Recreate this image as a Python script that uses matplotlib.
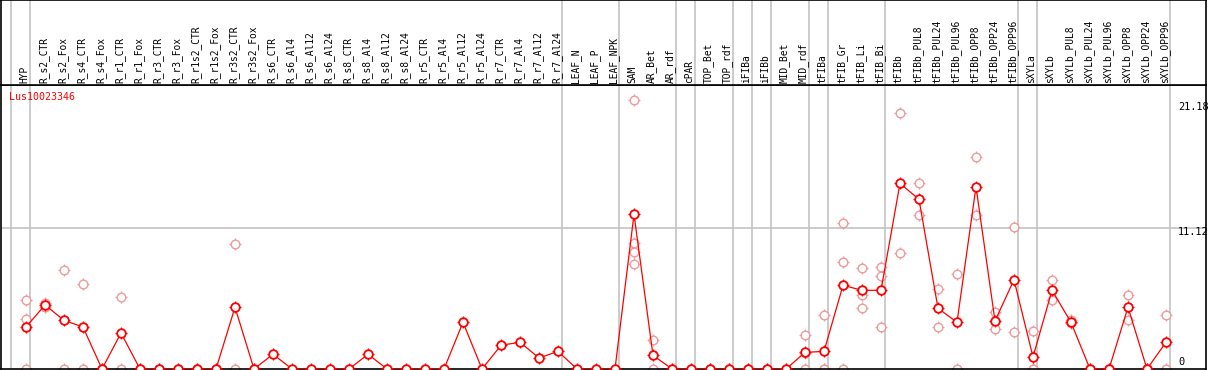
import matplotlib
matplotlib.use("Agg")
import matplotlib.pyplot as plt
import matplotlib.transforms as mtransforms

samples = ["HYP", "R_s2_CTR", "R_s2_Fox", "R_s4_CTR", "R_s4_Fox", "R_r1_CTR", "R_r1_Fox",
           "R_r3_CTR", "R_r3_Fox", "R_r1s2_CTR", "R_r1s2_Fox", "R_r3s2_CTR", "R_r3s2_Fox",
           "R_s6_CTR", "R_s6_Al4", "R_s6_Al12", "R_s6_Al24", "R_s8_CTR", "R_s8_Al4", "R_s8_Al12",
           "R_s8_Al24", "R_r5_CTR", "R_r5_Al4", "R_r5_Al12", "R_r5_Al24", "R_r7_CTR", "R_r7_Al4",
           "R_r7_Al12", "R_r7_Al24", "LEAF_N", "LEAF_P", "LEAF_NPK", "SAM", "AR_Bet", "AR_rdf",
           "cPAR", "TOP_Bet", "TOP_rdf", "iFIBa", "iFIBb", "MID_Bet", "MID_rdf", "tFIBa",
           "tFIB_Gr", "tFIB_Li", "tFIB_Bi", "tFIBb", "tFIBb_PUL8", "tFIBb_PUL24", "tFIBb_PUL96",
           "tFIBb_OPP8", "tFIBb_OPP24", "tFIBb_OPP96", "sXYLa", "sXYLb", "sXYLb_PUL8",
           "sXYLb_PUL24", "sXYLb_PUL96", "sXYLb_OPP8", "sXYLb_OPP24", "sXYLb_OPP96"]

means = [3.31, 5.05, 3.84, 3.31, 0, 2.84, 0, 0, 0, 0, 0, 4.87, 0,
         1.16, 0, 0, 0, 0, 1.16, 0, 0, 0, 0, 3.68, 0, 1.87, 2.11, 0.87, 1.39,
         0, 0, 0, 12.2, 1.08, 0, 0, 0, 0, 0, 0, 0, 1.31, 1.39,
         6.60, 6.21, 6.21, 14.64, 13.38, 4.79, 3.68, 14.38, 3.79, 7.04,
         0.95, 6.21, 3.68, 0, 0, 4.87, 0, 2.11]

replicates = [[5.44, 3.94, 0], [5.23, 4.86], [7.78, 0], [6.70, 0], [0, 0], [5.68, 0], [0, 0],
              [0, 0], [0, 0], [0, 0], [0, 0], [9.86, 0], [0, 0],
              [], [], [], [], [], [], [], [], [], [], [], [], [], [], [], [],
              [], [], [], [21.18, 9.91, 9.25, 8.28], [2.29, 0], [0, 0], [0, 0], [0, 0], [0, 0],
              [0, 0], [0, 0], [0, 0], [2.65, 1.28, 0], [4.23, 0, 0],
              [11.49, 8.41, 0], [7.94, 5.86, 4.79], [8.04, 7.31, 3.29], [20.16, 9.12],
              [14.64, 12.17], [6.29, 3.29], [7.47, 0], [16.76, 12.12], [4.52, 3.13], [11.17, 2.89],
              [3.0, 0, 0], [7.04, 5.41], [3.86, 3.60], [0, 0], [0, 0], [5.81, 3.89], [0, 0], [4.23, 0]]

# group separators drawn right after these sample indices
group_ends = [-1, 0, 28, 31, 34, 35, 37, 38, 39, 41, 42, 45, 52, 53, 60]

gene = "Lus10023346"
ytick_values = [21.18, 11.12, 0]
ytick_labels = ["21.18", "11.12", "0"]

W, H = 1209, 370
fig = plt.figure(figsize=(W / 100, H / 100), dpi=100)
plt.rcParams["font.family"] = ["DejaVu Sans Mono"]

x0 = -25 / 19
x1 = 1180 / 19
ax = fig.add_axes([1 / W, 1 / H, 1205 / W, 284 / H])
hx = fig.add_axes([1 / W, 285 / H, 1205 / W, 85 / H], sharex=ax)

grey = "#c4c4c4"
red = "#ff0000"
pink = "#ef9a9a"

for a in (ax, hx):
    a.set_xlim(x0, x1)
    a.set_xticks([])
    a.set_yticks([])
    for s in a.spines.values():
        s.set_color("black")
        s.set_linewidth(1.2)
    for g in group_ends:
        a.axvline(g + 0.23, color=grey, lw=1.2, zorder=0)

ax.set_ylim(0, 22.4)
hx.set_ylim(0, 1)
ax.axhline(ytick_values[1], color=grey, lw=1.2, zorder=0)

xs = list(range(len(samples)))

rx, ry = [], []
for i, reps in enumerate(replicates):
    for v in reps:
        rx.append(i)
        ry.append(v)
ax.plot(rx, ry, ls="none", marker="+", ms=9, mew=0.9, color=pink, zorder=2)
ax.plot(rx, ry, ls="none", marker="o", ms=6.2, mew=1.0, mec=pink, mfc="white", zorder=2)

ax.plot(xs, means, color=red, lw=0.9, zorder=3)
ax.plot(xs, means, ls="none", marker="+", ms=9, mew=0.9, color=red, zorder=4)
ax.plot(xs, means, ls="none", marker="o", ms=6.2, mew=1.3, mec=red, mfc="white", zorder=4)

for i, name in enumerate(samples):
    hx.text(i - 0.08, 0.025, name, rotation=90, ha="center", va="bottom", fontsize=6.9)

ax.text(0.0066, 0.975, gene, transform=ax.transAxes, color=red, fontsize=7.2, va="top", ha="left")

offsets = [-6.6, -4, 7]
for v, lab, off in zip(ytick_values, ytick_labels, offsets):
    tr = mtransforms.blended_transform_factory(ax.transAxes, ax.transData)
    tr = tr + mtransforms.ScaledTranslation(0, off / 100, fig.dpi_scale_trans)
    ax.text(0.9768, v, lab, transform=tr, fontsize=7.4, va="center", ha="left", clip_on=False)

fig.savefig("out.png", dpi=100)
